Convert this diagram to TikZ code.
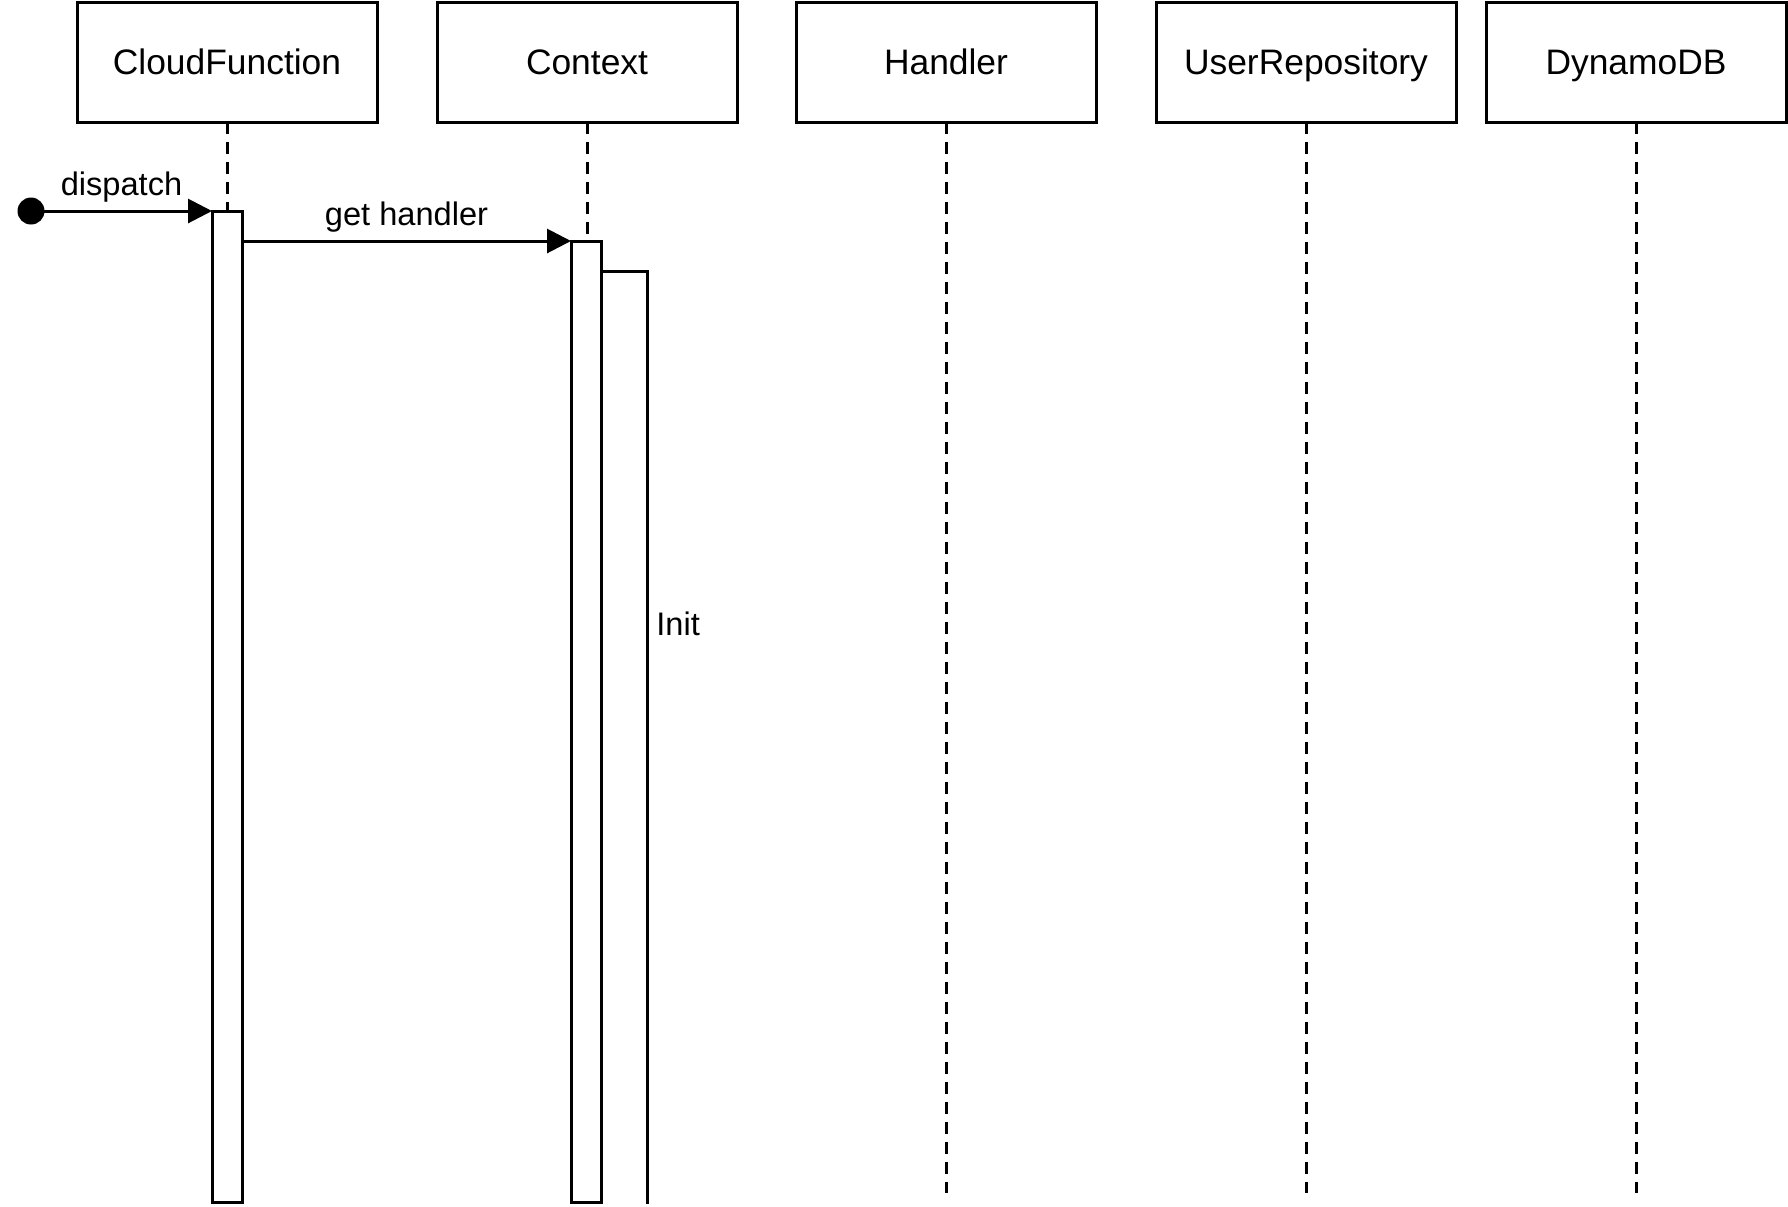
\documentclass[tikz,border=0pt]{standalone}
\usepackage{fontspec}
\setmainfont{Liberation Sans}
\usetikzlibrary{arrows.meta}
\begin{document}
\begin{tikzpicture}[x=0.5pt,y=-0.5pt,
  participant/.style={draw, line width=1.5pt, minimum width=150pt, minimum height=60pt,
    inner sep=0pt, outer sep=0pt, text height=12.7pt, text depth=0pt,
    font=\fontsize{17.7}{20}\selectfont},
  lifeline/.style={line width=1.5pt, dash pattern=on 6pt off 4pt},
  activation/.style={draw, fill=white, line width=1.5pt, minimum width=15pt,
    inner sep=0pt, outer sep=0pt, anchor=north},
  message/.style={line width=1.5pt, -{Triangle[length=12pt,width=12pt]}},
  msglabel/.style={font=\fontsize{16.3}{19}\selectfont, inner sep=0pt},
  frame/.style={line width=1.5pt}
]
\useasboundingbox (0,0) rectangle (1788,1206);

% participants
\node[participant] (cf)   at (227,62)  {CloudFunction};
\node[participant] (ctx)  at (587,62)  {Context};
\node[participant] (hdl)  at (946,62)  {Handler};
\node[participant] (repo) at (1306,62) {UserRepository};
\node[participant] (ddb)  at (1636,62) {DynamoDB};

% lifeline ends
\coordinate (cfEnd)   at (227,1193);
\coordinate (ctxEnd)  at (587,1193);
\coordinate (hdlEnd)  at (946,1193);
\coordinate (repoEnd) at (1306,1193);
\coordinate (ddbEnd)  at (1636,1193);

\draw[lifeline] (cf.south)   -- (cfEnd);
\draw[lifeline] (ctx.south)  -- (ctxEnd);
\draw[lifeline] (hdl.south)  -- (hdlEnd);
\draw[lifeline] (repo.south) -- (repoEnd);
\draw[lifeline] (ddb.south)  -- (ddbEnd);

% activations
\node[activation, minimum height=495.5pt] (cfAct)  at (227,211) {};
\node[activation, minimum height=480.5pt] (ctxAct) at (586,241) {};

% self call frame on Context
\coordinate (initTop) at (647,271);
\coordinate (initEnd) at (647,1204);
\draw[frame] (ctxAct.east |- initTop) -- (initTop) -- (initEnd);
\node[msglabel, anchor=west] (initLabel) at (656,624) {Init};

% messages
\node[circle, fill, minimum size=13.5pt, inner sep=0pt] (start) at (31,211) {};
\draw[message] (start.center) -- (cfAct.north west)
  node[msglabel, midway, above=3.5pt] (dispatchLabel) {dispatch};
\draw[message] (cfAct.east |- ctxAct.north) -- (ctxAct.north west)
  node[msglabel, midway, above=3.5pt] (getLabel) {get handler};
\end{tikzpicture}
\end{document}
